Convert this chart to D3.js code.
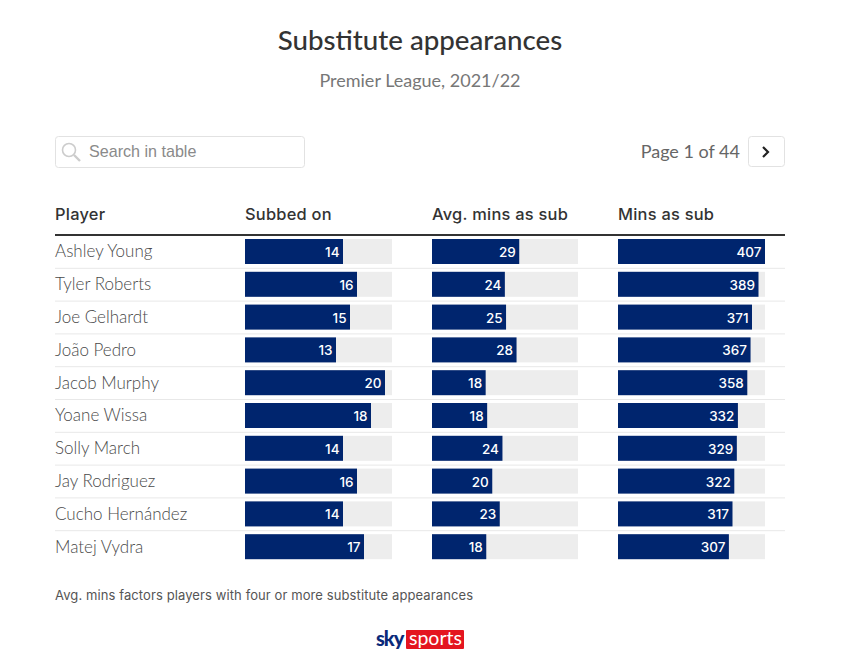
<!DOCTYPE html>
<html><head><meta charset="utf-8">
<script src="https://cdn.jsdelivr.net/npm/d3@7"></script>
<style>html,body{margin:0;padding:0;background:#fff;overflow:hidden}svg{display:block}</style>
</head><body><div id="c"></div>
<script>
const players=["Ashley Young","Tyler Roberts","Joe Gelhardt","João Pedro","Jacob Murphy","Yoane Wissa","Solly March","Jay Rodriguez","Cucho Hernández","Matej Vydra"];
const subbedOn=[14,16,15,13,20,18,14,16,14,17];
const avgMins=[29.1,24.3,24.7,28.2,17.9,18.4,23.5,20.1,22.6,18.1];
const minsAsSub=[407,389,371,367,358,332,329,322,317,307];
const headers=["Player","Subbed on","Avg. mins as sub","Mins as sub"];
const domains=[21,48.7,407];
const FONT="Lato, 'Open Sans', sans-serif";
const WIDE="Inter, 'Open Sans', sans-serif";
const svg=d3.select("#c").append("svg").attr("width",855).attr("height",666).style("font-family",FONT);
const T=(x,y,s,size,fill,anchor,weight)=>svg.append("text").attr("x",x).attr("y",y).text(s).attr("font-size",size).attr("fill",fill).attr("text-anchor",anchor||"start").attr("font-weight",weight||400);
T(420,50,"Substitute appearances",27.7,"#333","middle",500);
T(420,87,"Premier League, 2021/22",18,"#777","middle",400);
svg.append("rect").attr("x",55.5).attr("y",136.5).attr("width",249).attr("height",31).attr("rx",3).attr("fill","#fff").attr("stroke","#e2e2e2");
svg.append("circle").attr("cx",69).attr("cy",150).attr("r",6.5).attr("fill","none").attr("stroke","#ccc").attr("stroke-width",1.6);
svg.append("line").attr("x1",74).attr("y1",155).attr("x2",80).attr("y2",161).attr("stroke","#ccc").attr("stroke-width",2.4);
T(89,157,"Search in table",16.1,"#8a8a8a").style("font-family","Liberation Sans, Arial, sans-serif");
T(740,158,"Page 1 of 44",18,"#666","end");
svg.append("rect").attr("x",748.5).attr("y",136.5).attr("width",36).attr("height",30).attr("rx",3).attr("fill","#fff").attr("stroke","#e2e2e2");
svg.append("path").attr("d","M763 147l5 5l-5 5").attr("fill","none").attr("stroke","#222").attr("stroke-width",2.2);
const colX=[55,245,432,618];
headers.forEach((h,i)=>T(colX[i],220,h,16.4,"#333","start",500).style("font-family",WIDE).attr("letter-spacing",0.25));
svg.append("line").attr("x1",55).attr("x2",785).attr("y1",235).attr("y2",235).attr("stroke","#333").attr("stroke-width",2);
const y=d3.scaleBand().domain(players).range([235.5,563.5]);
players.forEach((p,i)=>{
  const top=y(p),h=y.bandwidth();
  if(i<players.length-1) svg.append("line").attr("x1",55).attr("x2",785).attr("y1",top+h).attr("y2",top+h).attr("stroke","#e8e8e8");
  T(55,top+h/2+5.5,p,17,"#4a4a4a","start",300);
});
const fmt=d3.format(".0f");
[[subbedOn,245,392],[avgMins,432,578],[minsAsSub,618,765]].forEach(([vals,x0,x1],k)=>{
  const x=d3.scaleLinear().domain([0,domains[k]]).range([x0,x1]);
  const g=svg.append("g");
  g.selectAll(".bg").data(vals).join("rect").attr("class","bg").attr("x",x0).attr("y",(d,i)=>y(players[i])+3.5).attr("width",x1-x0).attr("height",25).attr("fill","#ededed");
  g.selectAll(".bar").data(vals).join("rect").attr("class","bar").attr("x",x0).attr("y",(d,i)=>y(players[i])+3.5).attr("width",d=>x(d)-x0).attr("height",25).attr("fill","#00256e");
  g.selectAll("text").data(vals).join("text").attr("x",d=>x(d)-3.5).attr("y",(d,i)=>y(players[i])+21.5).attr("text-anchor","end").attr("font-size",13.5).attr("font-weight",500).style("font-family",WIDE).attr("fill","#fff").text(d=>fmt(d));
});
T(55,600,"Avg. mins factors players with four or more substitute appearances",13,"#555").style("font-family",WIDE).attr("textLength",418);
T(376,646,"sky",20,"#0a2a7a","start",900).attr("letter-spacing",-1);
svg.append("rect").attr("x",406).attr("y",630).attr("width",58).attr("height",19).attr("rx",1).attr("fill","#e4151f");
T(409,645,"sports",19.5,"#fff","start",400);
</script></body></html>
